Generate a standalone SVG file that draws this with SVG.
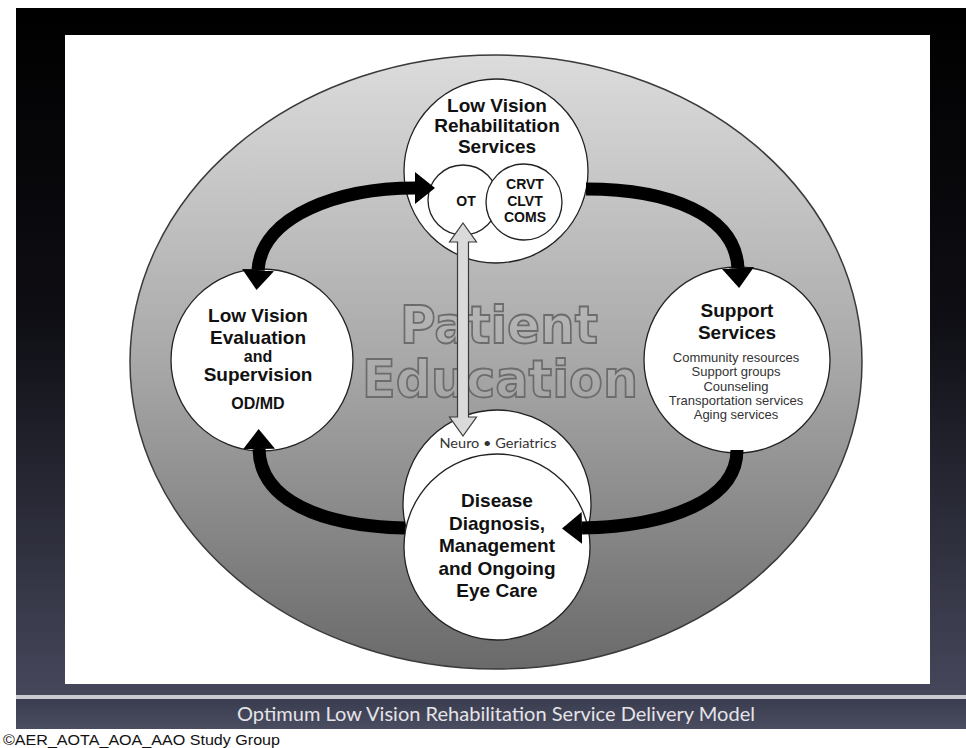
<svg xmlns="http://www.w3.org/2000/svg" width="966" height="748" viewBox="0 0 966 748">
  <defs>
    <linearGradient id="frameGrad" x1="0" y1="0" x2="0" y2="1">
      <stop offset="0" stop-color="#000000"/>
      <stop offset="0.45" stop-color="#0e0e14"/>
      <stop offset="1" stop-color="#46475b"/>
    </linearGradient>
    <linearGradient id="bandGrad" x1="0" y1="0" x2="0" y2="1">
      <stop offset="0" stop-color="#3a3c50"/>
      <stop offset="1" stop-color="#4a4c60"/>
    </linearGradient>
    <linearGradient id="ovalGrad" x1="0" y1="0" x2="0" y2="1">
      <stop offset="0" stop-color="#dcdcdc"/>
      <stop offset="0.5" stop-color="#a8a8a8"/>
      <stop offset="1" stop-color="#6a6a6a"/>
    </linearGradient>
    <marker id="head" viewBox="0 0 20 32" refX="0" refY="16" markerWidth="20" markerHeight="32"
            markerUnits="userSpaceOnUse" orient="auto-start-reverse">
      <path d="M0,0 L20,16 L0,32 Z" fill="#000"/>
    </marker>
  </defs>
  <style>
    .node circle { fill: #ffffff; stroke: #222222; stroke-width: 1.3; }
    .ring { fill: none; stroke: #333333; stroke-width: 1.2; }
    .t { font-family: "Liberation Sans", Arial, sans-serif; font-weight: bold; fill: #111111; text-anchor: middle; }
    .big { font-size: 19px; }
    .mid { font-size: 16px; }
    .sm { font-size: 14px; }
    .list { font-family: "Liberation Sans", Arial, sans-serif; font-size: 13px; fill: #333333; text-anchor: middle; }
    .flow { fill: none; stroke: #000000; stroke-width: 13; }
    .watermark { font-family: "DejaVu Sans", "Liberation Sans", sans-serif; font-weight: bold; font-size: 52px;
                 fill: #ffffff; fill-opacity: 0.06; stroke: #6c6c6c; stroke-width: 1.8; text-anchor: middle; }
  </style>

  <!-- page, slide frame and caption band -->
  <rect x="0" y="0" width="966" height="748" fill="#ffffff"/>
  <rect x="16" y="8" width="950" height="689" fill="url(#frameGrad)"/>
  <rect x="16" y="695" width="950" height="4" fill="#c9cad2"/>
  <rect x="16" y="699" width="950" height="30" fill="url(#bandGrad)"/>
  <rect x="65" y="35" width="865" height="649" fill="#ffffff"/>

  <!-- large shaded oval -->
  <ellipse cx="496" cy="362" rx="366" ry="307" fill="url(#ovalGrad)" stroke="#3a3a3a" stroke-width="1.5"/>

  <!-- background wording -->
  <text class="watermark" x="499" y="343" textLength="198" lengthAdjust="spacingAndGlyphs">Patient</text>
  <text class="watermark" x="500" y="397" textLength="276" lengthAdjust="spacingAndGlyphs">Education</text>

  <!-- nodes -->
  <g id="rehab" class="node">
    <circle cx="496" cy="171" r="92"/>
    <text class="t big" x="497" y="112">Low Vision</text>
    <text class="t big" x="497" y="132">Rehabilitation</text>
    <text class="t big" x="497" y="153">Services</text>
    <circle class="ring" cx="463" cy="200" r="35"/>
    <circle class="ring" cx="524" cy="202" r="38"/>
    <text class="t sm" x="466" y="206">OT</text>
    <text class="t sm" x="525" y="189">CRVT</text>
    <text class="t sm" x="525" y="206">CLVT</text>
    <text class="t sm" x="525" y="222">COMS</text>
  </g>

  <g id="evaluation" class="node">
    <circle cx="262" cy="360" r="91"/>
    <text class="t big" x="258" y="322">Low Vision</text>
    <text class="t big" x="258" y="344">Evaluation</text>
    <text class="t mid" x="258" y="362">and</text>
    <text class="t big" x="258" y="381">Supervision</text>
    <text class="t mid" x="258" y="409">OD/MD</text>
  </g>

  <g id="support" class="node">
    <circle cx="737" cy="360" r="93"/>
    <text class="t big" x="737" y="317">Support</text>
    <text class="t big" x="737" y="339">Services</text>
    <text class="list" x="736" y="362">Community resources</text>
    <text class="list" x="736" y="376">Support groups</text>
    <text class="list" x="736" y="391">Counseling</text>
    <text class="list" x="736" y="405">Transportation services</text>
    <text class="list" x="736" y="419">Aging services</text>
  </g>

  <g id="disease" class="node">
    <circle cx="497" cy="504" r="94"/>
    <circle cx="497" cy="547" r="93"/>
    <text x="498" y="448" font-family="Lato, 'Open Sans', sans-serif" font-size="14" fill="#333333"
          text-anchor="middle" textLength="117" lengthAdjust="spacingAndGlyphs">Neuro • Geriatrics</text>
    <text class="t big" x="497" y="507">Disease</text>
    <text class="t big" x="497" y="530">Diagnosis,</text>
    <text class="t big" x="497" y="552">Management</text>
    <text class="t big" x="497" y="575">and Ongoing</text>
    <text class="t big" x="497" y="597">Eye Care</text>
  </g>

  <!-- connectors -->
  <g id="connectors">
    <path class="flow" d="M415,188 C340,188 262,215 258,270" marker-start="url(#head)" marker-end="url(#head)"/>
    <path class="flow" d="M586,189 C670,189 735,215 738,268" marker-end="url(#head)"/>
    <path class="flow" d="M737,450 C737,500 670,526 582,528" marker-end="url(#head)"/>
    <path class="flow" d="M405,528 C320,526 260,500 259,449" marker-end="url(#head)"/>
    <polygon points="463,223 476.5,242 468.5,242 468.5,417 476.5,417 463,436 449.5,417 457.5,417 457.5,242 449.5,242"
             fill="#dadada" stroke="#3a3a3a" stroke-width="1.2"/>
  </g>

  <!-- caption and credit -->
  <text x="496" y="721" font-family="Lato, 'Open Sans', sans-serif" font-size="19" fill="#e4e4e8"
        text-anchor="middle" textLength="518" lengthAdjust="spacingAndGlyphs">Optimum Low Vision Rehabilitation Service Delivery Model</text>
  <text x="3" y="745" font-family="'Liberation Sans Narrow', 'Liberation Sans', Arial, sans-serif" font-size="15" fill="#111111"
        textLength="277" lengthAdjust="spacingAndGlyphs">©AER_AOTA_AOA_AAO Study Group</text>
</svg>
